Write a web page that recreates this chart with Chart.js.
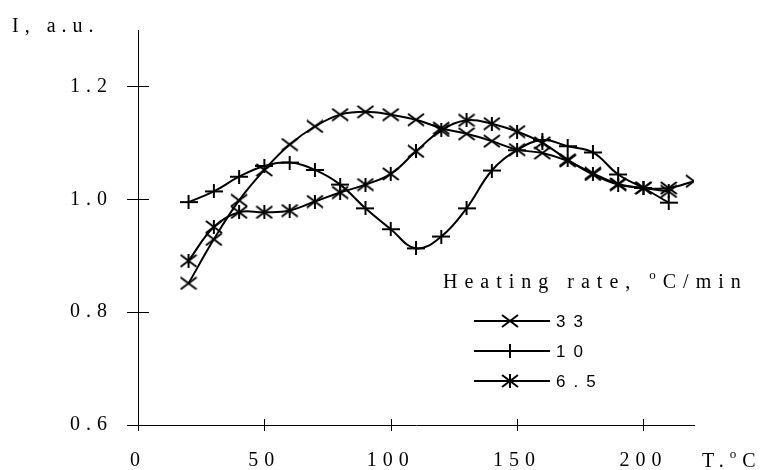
<!DOCTYPE html>
<html><head><meta charset="utf-8">
<script src="https://cdn.jsdelivr.net/npm/chart.js@4.4.0/dist/chart.umd.min.js"></script>
<style>html,body{margin:0;padding:0;background:#fff;}</style>
</head><body>
<canvas id="c" width="762" height="470"></canvas>
<script>
// ---- data ----
const xTicks = [0, 50, 100, 150, 200];
const yTicks = [0.6, 0.8, 1.0, 1.2];
const legendLabels = ['33', '10', '6.5'];

const temps33 = [20,30,40,50,60,70,80,90,100,110,120,130,140,150,160,170,180,190,200,210,220];
const rate33  = [0.851,0.929,0.998,1.052,1.097,1.129,1.150,1.155,1.150,1.141,1.126,1.116,1.103,1.088,1.082,1.068,1.046,1.027,1.020,1.020,1.032];

const temps10 = [20,30,40,50,60,70,80,90,100,110,120,130,140,150,160,170,180,190,200,210];
const rate10  = [0.995,1.014,1.040,1.059,1.065,1.052,1.026,0.984,0.947,0.913,0.934,0.984,1.051,1.087,1.105,1.094,1.083,1.044,1.020,0.994];

const temps65 = [20,30,40,50,60,70,80,90,100,110,120,130,140,150,160,170,180,190,200,210];
const rate65  = [0.891,0.951,0.977,0.977,0.980,0.996,1.012,1.026,1.045,1.085,1.122,1.140,1.134,1.120,1.100,1.070,1.044,1.026,1.020,1.014];

// ---- marker images ----
function makeMarker(kind){
  const c = document.createElement('canvas');
  c.width = 18; c.height = 14;
  const g = c.getContext('2d');
  g.strokeStyle = '#000'; g.lineWidth = 2;
  g.beginPath();
  if (kind === 'x' || kind === 'star') { g.moveTo(1,1); g.lineTo(17,13); g.moveTo(17,1); g.lineTo(1,13); }
  if (kind === 'plus') { g.moveTo(0,7); g.lineTo(18,7); }
  if (kind === 'plus' || kind === 'star') { g.moveTo(9,0); g.lineTo(9,14); }
  g.stroke();
  return c;
}
const markers = [makeMarker('x'), makeMarker('plus'), makeMarker('star')];

function pts(t, v){ return t.map((x,i)=>({x:x, y:v[i]})); }
const seriesT = [temps33, temps10, temps65];
const seriesV = [rate33, rate10, rate65];

const datasets = legendLabels.map((lab,i)=>({
  label: lab,
  data: pts(seriesT[i], seriesV[i]),
  borderColor: '#000',
  backgroundColor: '#000',
  borderWidth: 2,
  pointStyle: markers[i],
  pointRadius: 8,
  tension: 0.4,
  fill: false
}));

const SERIF = '"Liberation Serif", "Times New Roman", serif';
const SANS = '"Liberation Sans", Arial, sans-serif';

const decor = {
  id: 'decor',
  beforeLayout(chart){ chart.ctx.letterSpacing = '6px'; },
  beforeDraw(chart){ chart.ctx.letterSpacing = '6px'; },
  afterDraw(chart){
    const ctx = chart.ctx;
    const xs = chart.scales.x, ys = chart.scales.y;
    const a = chart.chartArea;
    ctx.save();
    ctx.letterSpacing = '0px';
    ctx.strokeStyle = '#000'; ctx.lineWidth = 1;
    ctx.beginPath();
    yTicks.forEach(v=>{ const y = Math.round(ys.getPixelForValue(v))+0.5; ctx.moveTo(a.left-11,y); ctx.lineTo(a.left+11,y); });
    xTicks.forEach(v=>{ const x = Math.round(xs.getPixelForValue(v))+0.5; ctx.moveTo(x,a.bottom-6); ctx.lineTo(x,a.bottom+6); });
    ctx.stroke();

    ctx.fillStyle = '#000';
    ctx.letterSpacing = '6px';
    ctx.textBaseline = 'alphabetic';
    ctx.textAlign = 'left';
    ctx.font = '20px ' + SERIF;
    ctx.fillText('I, a.u.', 12, 32);

    function seq(parts, x, y){
      parts.forEach(p=>{
        ctx.font = p.size + 'px ' + SERIF;
        ctx.fillText(p.t, x, y + (p.dy||0));
        x += ctx.measureText(p.t).width;
      });
    }
    // x axis title T.°C
    seq([{t:'T.',size:20},{t:'o',size:13,dy:-9},{t:'C',size:20}], 702, 467);

    // legend
    ctx.letterSpacing = '7px';
    seq([{t:'Heating rate, ',size:20},{t:'o',size:13,dy:-9},{t:'C/min',size:20}], 443, 288);
    ctx.letterSpacing = '8px';
    ctx.font = '17px ' + SANS;
    ctx.textBaseline = 'middle';
    chart.data.datasets.forEach((ds,i)=>{
      const y = 321 + i*30;
      ctx.beginPath(); ctx.lineWidth = 2;
      ctx.moveTo(474, y); ctx.lineTo(550, y); ctx.stroke();
      const m = ds.pointStyle;
      ctx.drawImage(m, 510 - m.width/2, y - m.height/2);
      ctx.fillText(ds.label, 556, y + 1);
    });
    ctx.restore();
  }
};

new Chart(document.getElementById('c'), {
  type: 'line',
  data: { datasets },
  plugins: [decor],
  options: {
    responsive: false,
    animation: false,
    events: [],
    layout: { padding: { left: 0, top: 30, right: 68, bottom: 0 } },
    plugins: { legend: { display: false }, tooltip: { enabled: false } },
    scales: {
      x: {
        type: 'linear', min: 0, max: 220,
        afterBuildTicks: s => { s.ticks = xTicks.map(v=>({value:v})); },
        afterFit: s => { s.height = 45; s.paddingLeft = 0; s.paddingRight = 0; },
        grid: { display: false, drawTicks: false },
        border: { display: true, color: '#000', width: 1 },
        ticks: { color: '#000', font: { family: SERIF, size: 20 }, padding: 24, maxRotation: 0, autoSkip: false, callback: v => String(v) }
      },
      y: {
        type: 'linear', min: 0.6, max: 1.3,
        afterBuildTicks: s => { s.ticks = yTicks.map(v=>({value:v})); },
        afterFit: s => { s.width = 138; s.paddingTop = 0; s.paddingBottom = 0; },
        grid: { display: false, drawTicks: false },
        border: { display: true, color: '#000', width: 1 },
        ticks: { color: '#000', font: { family: SERIF, size: 20 }, padding: 25, autoSkip: false, callback: v => Number(v).toFixed(1) }
      }
    }
  }
});
</script>
</body></html>
